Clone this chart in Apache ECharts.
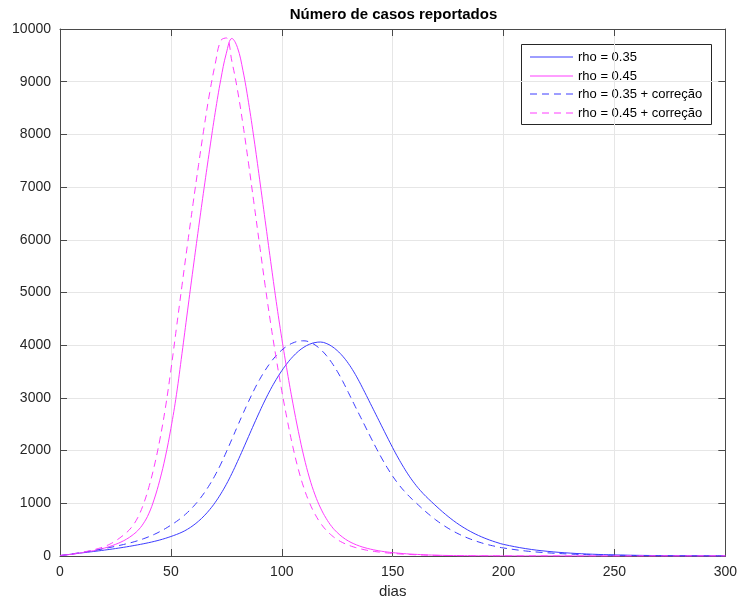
<!DOCTYPE html>
<html>
<head>
<meta charset="utf-8">
<script src="https://cdn.jsdelivr.net/npm/echarts@6/dist/echarts.min.js"></script>
<style>
html,body{margin:0;padding:0;background:#fff;}
#chart{width:740px;height:604px;}
</style>
</head>
<body>
<div id="chart"></div>
<script>
// ---- data ----
const seriesNames = ['rho = 0.35', 'rho = 0.45', 'rho = 0.35 + correção', 'rho = 0.45 + correção'];

// days (x) shared by all four curves
const days = [
  0,2.5,5,7.5,10,12.5,15,17.5,20,22.5,25,27.5,30,32.5,35,37.5,40,42.5,45,47.5,
  50,52.5,55,57.5,60,62.5,65,67.5,70,72.5,75,77.5,80,82.5,85,87.5,90,92.5,95,97.5,
  100,102.5,105,107.5,110,112.5,115,117.5,120,122.5,125,127.5,130,132.5,135,137.5,140,142.5,145,147.5,
  150,152.5,155,157.5,160,162.5,165,167.5,170,172.5,175,177.5,180,182.5,185,187.5,190,192.5,195,197.5,
  200,210,220,230,240,250,260,270,280,290,300];

// rho = 0.35 (solid blue)
const casesRho035 = [
  7,20,34,47,60,72,85,98,112,126,141,157,174,192,211,231,253,277,304,335,
  370,408,452,508,578,662,762,880,1018,1178,1360,1565,1790,2025,2265,2505,2738,2960,3165,3350,
  3515,3660,3783,3885,3963,4018,4050,4060,4035,3980,3898,3790,3655,3493,3305,3100,2890,2680,2470,2260,
  2055,1860,1680,1515,1370,1242,1130,1030,932,838,750,668,594,527,467,413,365,322,284,250,
  220,140,88,55,34,21,13,8,5,3,2];

// rho = 0.45 (solid magenta)
const casesRho045 = [
  10,20,32,46,62,80,100,123,150,182,220,265,320,390,480,610,800,1080,1440,1880,
  2420,3060,3840,4650,5450,6230,6990,7720,8420,9040,9540,9820,9650,9210,8610,7910,7150,6370,5590,4830,
  4130,3490,2900,2360,1880,1480,1160,910,715,560,445,355,285,232,190,157,130,108,90,76,
  64,54,45,38,32,27,22,18,15,12,10,8,7,6,5,4,4,3,3,2,
  2,1,1,0,0,0,0,0,0,0,0];

// rho = 0.35 + correção (dashed blue)
const casesRho035c = [
  7,22,37,53,68,85,102,121,141,162,184,207,232,259,290,325,365,410,462,520,
  585,655,735,827,933,1055,1195,1355,1537,1743,1975,2215,2460,2700,2930,3150,3348,3523,3675,3803,
  3907,3987,4043,4075,4083,4060,4005,3920,3810,3670,3505,3315,3105,2890,2680,2470,2260,2055,1860,1680,
  1515,1370,1242,1130,1030,932,838,750,668,594,527,467,413,365,322,284,250,220,195,172,
  152,95,60,37,23,14,9,5,3,2,1];

// rho = 0.45 + correção (dashed magenta)
const casesRho045c = [
  10,21,35,52,70,92,117,145,180,225,285,360,444,558,724,968,1296,1704,2204,2804,
  3528,4326,5130,5918,6686,7428,8140,8792,9340,9780,9830,9386,8850,8190,7454,6682,5902,5134,4410,3746,
  3136,2576,2072,1640,1288,1010,793,622,491,391,313,253,207,170,141,117,97,82,70,58,
  49,41,34,29,24,20,16,13,11,9,7,6,5,4,4,3,3,3,2,2,
  2,1,1,0,0,0,0,0,0,0,0];

// ---- chart ----
const BLUE = '#3c3cff';
const MAG = '#ff3cff';
const FONT = 'Liberation Sans, Arial, Helvetica, sans-serif';
const AXC = '#4a4a4a';
const DASH = [7, 5];
const seriesColors = [BLUE, MAG, BLUE, MAG];
const seriesDashed = [false, false, true, true];

function pairs(d, v) { return d.map((x, i) => [x, v[i]]); }

const chart = echarts.init(document.getElementById('chart'), null, {renderer: 'canvas'});

function mkSeries(name, v, color, dashed) {
  return {
    name: name, type: 'line', data: pairs(days, v),
    symbol: 'none', smooth: 0.4,
    lineStyle: {color: color, width: 1, type: dashed ? DASH : 'solid'},
    itemStyle: {color: color},
    emphasis: {disabled: true},
    xAxisIndex: 0, yAxisIndex: 0, z: 3
  };
}

// legend box drawn as graphic (lines + text), same look as the MATLAB legend
const LEG_X = 521.5, LEG_Y = 44.5, LEG_W = 190, LEG_H = 80, ROW0 = 57, ROW_STEP = 18.7;
const legendChildren = [{
  type: 'rect', shape: {x: LEG_X, y: LEG_Y, width: LEG_W, height: LEG_H},
  style: {fill: '#fff', stroke: '#262626', lineWidth: 1}
}];
seriesNames.forEach((n, i) => {
  const y = Math.round(ROW0 + i * ROW_STEP);
  legendChildren.push({
    type: 'line', shape: {x1: 530, y1: y, x2: 573, y2: y},
    style: {stroke: seriesColors[i], lineWidth: 1, lineDash: seriesDashed[i] ? DASH : null}
  });
  legendChildren.push({
    type: 'text', x: 578, y: y,
    style: {text: n, fill: '#000', fontSize: 13, fontFamily: FONT,
            textVerticalAlign: 'middle', verticalAlign: 'middle', textAlign: 'left', align: 'left'}
  });
});

const option = {
  animation: false,
  backgroundColor: '#fff',
  textStyle: {fontFamily: FONT},
  graphic: [{
    type: 'text', x: 393.5, y: 15, z: 10,
    style: {text: 'Número de casos reportados', fill: '#000', fontSize: 15, fontWeight: 'bold', fontFamily: FONT,
            textAlign: 'center', textVerticalAlign: 'middle', align: 'center', verticalAlign: 'middle'}
  }, {
    type: 'group', z: 20, children: legendChildren
  }],
  grid: {left: 60, right: 13, top: 29, bottom: 48, containLabel: false},
  legend: {show: false, data: seriesNames},
  xAxis: [{
    type: 'value', min: 0, max: 300, interval: 50, position: 'bottom',
    name: 'dias', nameLocation: 'middle', nameGap: 28,
    nameTextStyle: {fontSize: 15, color: '#262626', fontFamily: FONT},
    axisLine: {show: true, lineStyle: {color: AXC, width: 1}},
    axisTick: {show: true, inside: true, length: 7, lineStyle: {color: AXC}},
    axisLabel: {fontSize: 14, color: '#262626', margin: 9, fontFamily: FONT, formatter: v => String(v)},
    splitLine: {show: true, lineStyle: {color: '#e6e6e6', width: 1}}
  }, {
    type: 'value', min: 0, max: 300, interval: 50, position: 'top',
    axisLine: {show: true, onZero: false, lineStyle: {color: AXC, width: 1}},
    axisTick: {show: true, inside: true, length: 7, lineStyle: {color: AXC}},
    axisLabel: {show: false}, splitLine: {show: false}
  }],
  yAxis: [{
    type: 'value', min: 0, max: 10000, interval: 1000, position: 'left',
    axisLine: {show: true, lineStyle: {color: AXC, width: 1}},
    axisTick: {show: true, inside: true, length: 7, lineStyle: {color: AXC}},
    axisLabel: {fontSize: 14, color: '#262626', margin: 9, fontFamily: FONT, formatter: v => String(v)},
    splitLine: {show: true, lineStyle: {color: '#e6e6e6', width: 1}}
  }, {
    type: 'value', min: 0, max: 10000, interval: 1000, position: 'right',
    axisLine: {show: true, onZero: false, lineStyle: {color: AXC, width: 1}},
    axisTick: {show: true, inside: true, length: 7, lineStyle: {color: AXC}},
    axisLabel: {show: false}, splitLine: {show: false}
  }],
  series: [
    mkSeries(seriesNames[0], casesRho035, BLUE, false),
    mkSeries(seriesNames[1], casesRho045, MAG, false),
    mkSeries(seriesNames[2], casesRho035c, BLUE, true),
    mkSeries(seriesNames[3], casesRho045c, MAG, true)
  ]
};
chart.setOption(option);
</script>
</body>
</html>
